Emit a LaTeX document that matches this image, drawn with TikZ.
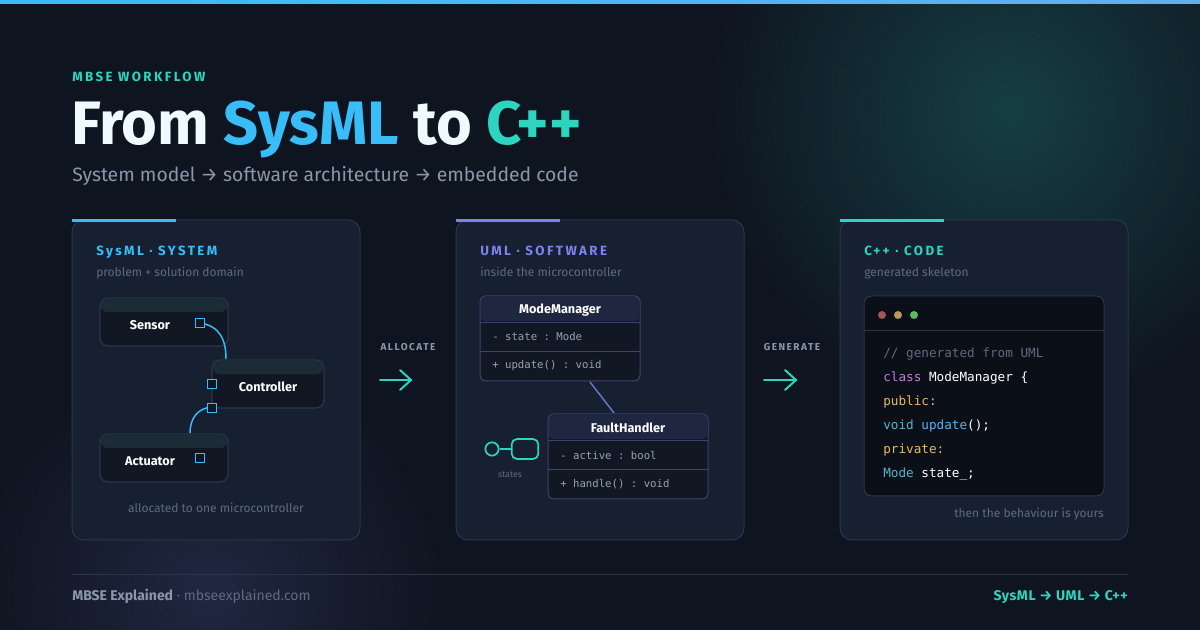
\documentclass[tikz,border=0pt]{standalone}
\usepackage{fontspec}
\setmainfont{Fira Sans}
\setmonofont{DejaVu Sans Mono}
\usepackage{xcolor}
\usetikzlibrary{positioning}

\definecolor{bg}{HTML}{0F1520}
\definecolor{panel}{HTML}{172030}
\definecolor{edge}{HTML}{2A3648}
\definecolor{cyanc}{HTML}{38BDF8}
\definecolor{tealc}{HTML}{2DD4BF}
\definecolor{violetc}{HTML}{7C83F0}
\definecolor{greyc}{HTML}{8A97AB}
\definecolor{dimc}{HTML}{5E6B80}
\definecolor{boxc}{HTML}{111824}
\definecolor{headc}{HTML}{1B2C36}
\definecolor{umlhead}{HTML}{1E2640}
\definecolor{umledge}{HTML}{3B4470}
\definecolor{codebg}{HTML}{0B1018}
\definecolor{kwc}{HTML}{C678DD}
\definecolor{orc}{HTML}{E5B86A}
\definecolor{blc}{HTML}{61AFEF}
\definecolor{tyc}{HTML}{56B6C2}

\tikzset{
  panel/.style={draw=edge, fill=panel, rounded corners=9pt, line width=0.75pt},
  label/.style={anchor=base west, inner sep=0pt, font=\fontsize{10}{12}\selectfont\bfseries\addfontfeature{LetterSpace=18}},
  note/.style={inner sep=0pt, text=dimc, font=\fontsize{9}{11}\selectfont},
  block/.style={draw=edge, fill=boxc, rounded corners=6pt, line width=0.9pt},
  blockname/.style={text=white, font=\fontsize{9.5}{11}\selectfont\bfseries},
  port/.style={draw=cyanc, fill=boxc, line width=1pt, minimum size=6.5pt, inner sep=0pt},
  umlbox/.style={draw=umledge, fill=boxc, rounded corners=4pt, line width=0.75pt},
  umltxt/.style={anchor=west, inner sep=0pt, text=greyc!90!white, font=\ttfamily\fontsize{8}{9}\selectfont},
  code/.style={anchor=base west, inner sep=0pt, font=\ttfamily\fontsize{9.5}{11}\selectfont},
  flow/.style={tealc, line width=1.5pt, line cap=round, line join=round},
}

\begin{document}
\begin{tikzpicture}[x=0.75pt,y=0.75pt,yscale=-1,xscale=1]
\useasboundingbox (0,0) rectangle (1200,630);

% background
\fill[bg] (0,0) rectangle (1200,630);
\begin{scope}
\clip (0,0) rectangle (1200,630);
\shade[inner color=tealc!22!bg, outer color=bg] (1010,110) circle (300);
\shade[inner color=violetc!16!bg, outer color=bg] (210,590) circle (230);
\end{scope}
\foreach \i in {0,...,37} {
  \foreach \j in {0,...,19} {
    \fill[white, opacity=0.06] (\i*32+8,\j*32+8) circle (0.9);
  }
}
\shade[left color=cyanc, right color=blc] (0,0) rectangle (1200,4);

% heading
\node[label, text=tealc] (kicker) at (72,82) {MBSE WORKFLOW};
\node[anchor=base west, inner sep=0pt, font=\fontsize{46}{50}\selectfont\bfseries, text=white!92!cyanc] (title) at (71,145)
  {From \textcolor{cyanc}{SysML} to \textcolor{tealc}{C++}};
\node[anchor=base west, inner sep=0pt, font=\fontsize{14.5}{16}\selectfont, text=greyc] (subtitle) at (72,182)
  {System model → software architecture → embedded code};

% panels
\draw[panel] (72,220) rectangle (360,540);
\draw[panel] (456,220) rectangle (744,540);
\draw[panel] (840,220) rectangle (1128,540);
\draw[cyanc, line width=2.25pt] (72,221) -- (176,221);
\draw[violetc, line width=2.25pt] (456,221) -- (560,221);
\draw[tealc, line width=2.25pt] (840,221) -- (944,221);

\node[label, text=cyanc] (sysml) at (96,256) {SysML · SYSTEM};
\node[note, anchor=base west] (sysmlsub) at (96,277) {problem + solution domain};
\node[label, text=violetc] (uml) at (480,256) {UML · SOFTWARE};
\node[note, anchor=base west] (umlsub) at (480,277) {inside the microcontroller};
\node[label, text=tealc] (cpp) at (864,256) {C++ · CODE};
\node[note, anchor=base west] (cppsub) at (864,277) {generated skeleton};

% SysML blocks
\draw[block] (100,298) rectangle (228,346);
\fill[headc, rounded corners=5pt] (101,299) rectangle (227,312);
\node[blockname] (sensor) at (150,325) {Sensor};
\draw[block] (212,360) rectangle (324,408);
\fill[headc, rounded corners=5pt] (213,361) rectangle (323,374);
\node[blockname] (controller) at (268,387) {Controller};
\draw[block] (100,434) rectangle (228,482);
\fill[headc, rounded corners=5pt] (101,435) rectangle (227,448);
\node[blockname] (actuator) at (150,461) {Actuator};

\coordinate (ctop) at (226,359);
\coordinate (atop) at (190,433);
\draw[cyanc, line width=1.1pt] (200,323) .. controls (220,326) and (226,340) .. (ctop);
\draw[cyanc, line width=1.1pt] (atop) .. controls (190,418) and (198,408) .. (212,407);
\node[port] (sensorout) at (200,323) {};
\node[port] (ctrlin) at (212,384) {};
\node[port] (ctrlout) at (212,408) {};
\node[port] (actin) at (200,458) {};
\node[note] (alloc) at (216,508) {allocated to one microcontroller};

% transitions
\node[inner sep=0pt, text=greyc, font=\fontsize{7.5}{9}\selectfont\bfseries\addfontfeature{LetterSpace=15}] (allocate) at (408,347) {ALLOCATE};
\draw[flow] (380,380) -- (411,380);
\draw[flow] (400,370) -- (411,380) -- (400,390);
\node[inner sep=0pt, text=greyc, font=\fontsize{7.5}{9}\selectfont\bfseries\addfontfeature{LetterSpace=15}] (generate) at (792,347) {GENERATE};
\draw[flow] (764,380) -- (796,380);
\draw[flow] (785,370) -- (796,380) -- (785,390);

% UML classes
\draw[umlbox] (480,296) rectangle (640,381);
\fill[umlhead, rounded corners=3pt] (481,297) rectangle (639,321);
\draw[umledge] (480,322) -- (640,322) (480,351) -- (640,351);
\node[blockname] (modemgr) at (560,310) {ModeManager};
\node[umltxt] (mmattr) at (492,337) {- state : Mode};
\node[umltxt] (mmop) at (492,366) {+ update() : void};

\draw[umlbox] (548,414) rectangle (708,499);
\fill[umlhead, rounded corners=3pt] (549,415) rectangle (707,439);
\draw[umledge] (548,440) -- (708,440) (548,469) -- (708,469);
\node[blockname] (fault) at (628,428) {FaultHandler};
\node[umltxt] (fhattr) at (560,455) {- active : bool};
\node[umltxt] (fhop) at (560,484) {+ handle() : void};

\coordinate (mmbot) at (590,382);
\coordinate (fhtop) at (614,413);
\draw[violetc!80!edge, line width=1.1pt] (mmbot) -- (fhtop);

% state icon
\node[draw=tealc, line width=1.3pt, circle, minimum size=10pt, inner sep=0pt] (initial) at (492,449) {};
\node[draw=tealc, line width=1.3pt, rounded corners=4pt, minimum width=20pt, minimum height=15pt, inner sep=0pt] (state) at (525,449) {};
\draw[tealc, line width=1.3pt] (initial) -- (state);
\node[note, font=\fontsize{6.5}{8}\selectfont] (stateslbl) at (510,475) {states};

% code window
\draw[fill=codebg, draw=edge, rounded corners=6pt, line width=0.75pt] (864,296) rectangle (1104,496);
\draw[edge] (864,330) -- (1104,330);
\fill[red!45!bg!70!white] (882,315) circle (4);
\fill[orc!80!bg] (898,315) circle (4);
\fill[green!40!gray!90!white] (914,315) circle (4);
\node[code, text=dimc] (c1) at (883,358) {// generated from UML};
\node[code, text=white] (c2) at (883,382) {\textcolor{kwc}{class} ModeManager \{};
\node[code, text=orc] (c3) at (883,406) {public:};
\node[code, text=white] (c4) at (883,430) {\textcolor{tyc}{void} \textcolor{blc}{update}();};
\node[code, text=orc] (c5) at (883,454) {private:};
\node[code, text=white] (c6) at (883,478) {\textcolor{tyc}{Mode} state\_;};
\node[note, anchor=base east] (yours) at (1104,518) {then the behaviour is yours};

% footer
\draw[edge] (72,574) -- (1128,574);
\node[anchor=base west, inner sep=0pt, font=\fontsize{10.5}{12}\selectfont, text=dimc] (brand) at (72,600)
  {\textcolor{greyc}{\bfseries MBSE Explained} · mbseexplained.com};
\node[anchor=base east, inner sep=0pt, font=\fontsize{10.5}{12}\selectfont\bfseries\addfontfeature{LetterSpace=4}, text=tealc] (chain) at (1128,600)
  {SysML → UML → C++};

\end{tikzpicture}
\end{document}
